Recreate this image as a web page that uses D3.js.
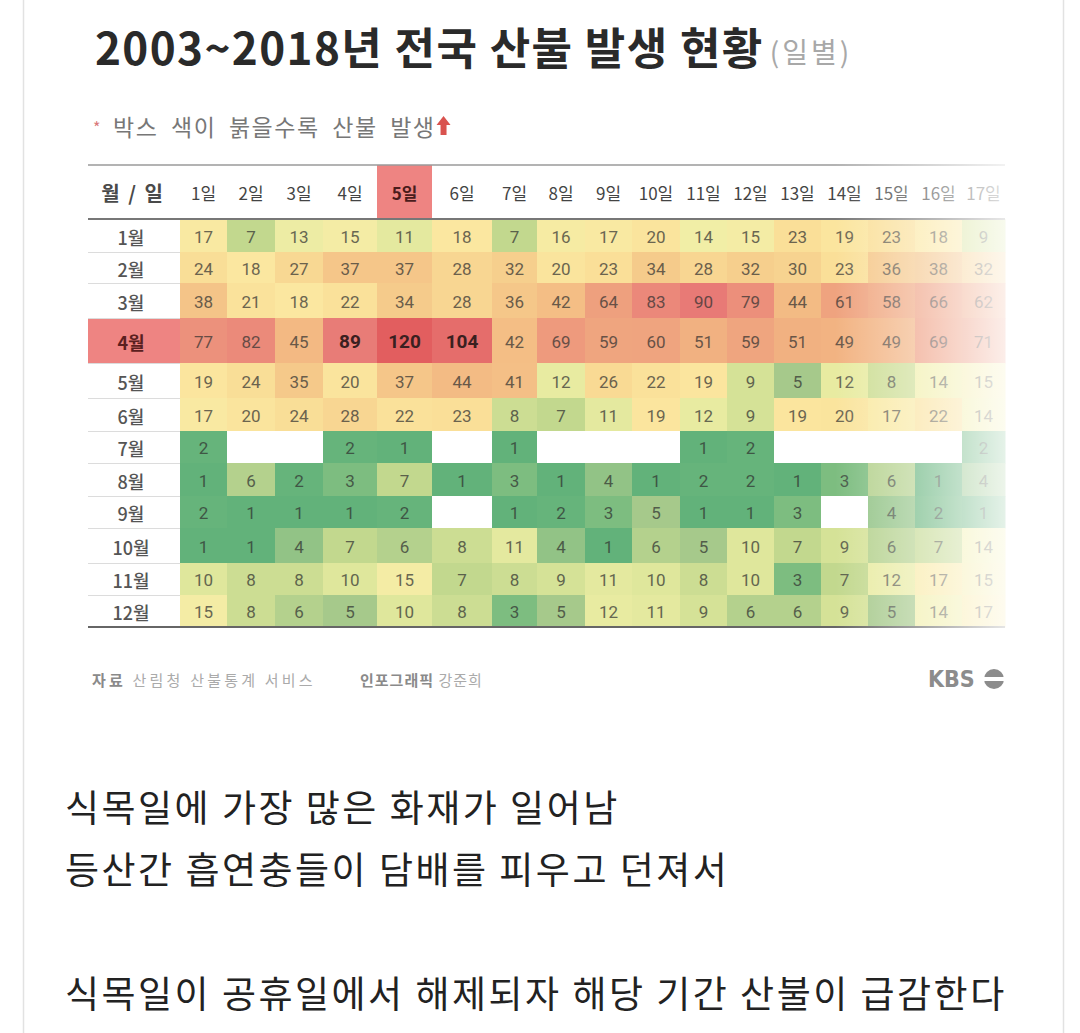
<!DOCTYPE html>
<html>
<head>
<meta charset="utf-8">
<script src="https://cdn.jsdelivr.net/npm/d3@7"></script>
<style>
  body { margin: 0; background: #fff; }
  svg { display: block; }
</style>
</head>
<body>
<div id="chart"></div>
<script>
/* forest fire heatmap, 2003-2018 daily counts */

const months = ["1월","2월","3월","4월","5월","6월","7월","8월","9월","10월","11월","12월"];
const days = ["1일","2일","3일","4일","5일","6일","7일","8일","9일","10일","11일","12일","13일","14일","15일","16일","17일"];

// one array per month, day 1..17 (null = no fire)
const jan = [17,7,13,15,11,18,7,16,17,20,14,15,23,19,23,18,9];
const feb = [24,18,27,37,37,28,32,20,23,34,28,32,30,23,36,38,32];
const mar = [38,21,18,22,34,28,36,42,64,83,90,79,44,61,58,66,62];
const apr = [77,82,45,89,120,104,42,69,59,60,51,59,51,49,49,69,71];
const may = [19,24,35,20,37,44,41,12,26,22,19,9,5,12,8,14,15];
const jun = [17,20,24,28,22,23,8,7,11,19,12,9,19,20,17,22,14];
const jul = [2,null,null,2,1,null,1,null,null,null,1,2,null,null,null,null,2];
const aug = [1,6,2,3,7,1,3,1,4,1,2,2,1,3,6,1,4];
const sep = [2,1,1,1,2,null,1,2,3,5,1,1,3,null,4,2,1];
const oct = [1,1,4,7,6,8,11,4,1,6,5,10,7,9,6,7,14];
const nov = [10,8,8,10,15,7,8,9,11,10,8,10,3,7,12,17,15];
const dec = [15,8,6,5,10,8,3,5,12,11,9,6,6,9,5,14,17];
const values = [jan,feb,mar,apr,may,jun,jul,aug,sep,oct,nov,dec];

const highlightMonth = "4월";
const highlightDay = "5일";
const boldCells = [[3,3],[3,4],[3,5]];

const title = "2003~2018년 전국 산불 발생 현황";
const titleNote = "(일별)";
const subtitle = "박스 색이 붉을수록 산불 발생";
const source = ["자료", "산림청 산불통계 서비스"];
const credit = ["인포그래픽", "강준희"];
const caption = ["식목일에 가장 많은 화재가 일어남", "등산간 흡연충들이 담배를 피우고 던져서", "", "식목일이 공휴일에서 해제되자 해당 기간 산불이 급감한다"];

const W = 1080, H = 1033;
const kr = "'Noto Sans CJK KR', 'Noto Sans', sans-serif";
const num = "Roboto, 'DejaVu Sans', sans-serif";

// layout of the table
const tableLeft = 88, labelRight = 180, tableTop = 165, headBottom = 219;
const colW = [47,48,48,54,55,60,45,48,47,48,47,47,47,47,47,47,43];
const rowH = [33,31,35,45,35,33,32,33,32,35,32,32];

const colStart = d3.cumsum([0].concat(colW.slice(0, -1)));
const rowStart = d3.cumsum([0].concat(rowH.slice(0, -1)));
const x = d3.scaleOrdinal(days, colStart.map(v => labelRight + v));
const xw = d3.scaleOrdinal(days, colW);
const y = d3.scaleOrdinal(months, rowStart.map(v => headBottom + v));
const yh = d3.scaleOrdinal(months, rowH);
const tableRight = labelRight + d3.sum(colW);
const tableBottom = headBottom + d3.sum(rowH);

const color = d3.scaleLinear()
  .domain([1, 2, 3, 5, 7, 10, 14, 18, 25, 35, 45, 60, 80, 90, 120])
  .range(["#62b27a","#66b47b","#7dbd80","#a6c98b","#c2d88e","#dfe79c","#f1eea6","#fbe7a0","#f9dc95","#f5c98a","#f3b983","#efa47f","#ec8e7b","#e87a76","#e25e5f"])
  .clamp(true);

const svg = d3.select("#chart").append("svg")
  .attr("width", W).attr("height", H);

// card borders
svg.append("line").attr("x1", 23.5).attr("x2", 23.5).attr("y1", 0).attr("y2", H)
  .attr("stroke", "#e2e2e2").attr("stroke-width", 1.5);
svg.append("line").attr("x1", 1063.5).attr("x2", 1063.5).attr("y1", 0).attr("y2", H)
  .attr("stroke", "#e2e2e2").attr("stroke-width", 1.5);

// title
const t = svg.append("text").attr("x", 95).attr("y", 65)
  .style("font-family", kr).style("font-size", "44px").style("font-weight", 700)
  .style("letter-spacing", "1.4px")
  .attr("fill", "#2a2a2a").text(title);
const tw = t.node().getComputedTextLength();
svg.append("text").attr("x", 95 + tw + 6).attr("y", 63)
  .style("font-family", kr).style("font-size", "28px").style("letter-spacing", "3px")
  .attr("fill", "#a8a8a8").text(titleNote);

// subtitle
svg.append("text").attr("x", 93).attr("y", 134)
  .style("font-family", kr).style("font-size", "16px")
  .attr("fill", "#d9787a").text("*");
const st = svg.append("text").attr("x", 113).attr("y", 136)
  .style("font-family", kr).style("font-size", "23px")
  .style("letter-spacing", "1.5px").style("word-spacing", "6px")
  .attr("fill", "#777").text(subtitle);
const sw = st.node().getComputedTextLength();
const ax = 113 + sw + 8;
svg.append("path")
  .attr("d", `M${ax},116 L${ax + 7},125 L${ax + 3},125 L${ax + 3},135 L${ax - 3},135 L${ax - 3},125 L${ax - 7},125 Z`)
  .attr("fill", "#d9534f");

// header
const head = svg.append("g");
head.append("rect").attr("x", x(highlightDay)).attr("y", tableTop)
  .attr("width", xw(highlightDay)).attr("height", headBottom - tableTop)
  .attr("fill", "#ee8482");
head.append("text").attr("x", (tableLeft + labelRight) / 2 - 2).attr("y", 192)
  .attr("text-anchor", "middle").attr("dominant-baseline", "central")
  .style("font-family", kr).style("font-size", "20px").style("font-weight", 700)
  .style("word-spacing", "4px")
  .attr("fill", "#4a4a4a").text("월 / 일");
head.selectAll(".day").data(days).join("text")
  .attr("class", "day")
  .attr("x", d => x(d) + xw(d) / 2).attr("y", 192)
  .attr("text-anchor", "middle").attr("dominant-baseline", "central")
  .style("font-family", kr).style("font-size", "17px")
  .style("font-weight", d => d === highlightDay ? 700 : 400)
  .attr("fill", d => d === highlightDay ? "#4a1c1c" : "#444")
  .text(d => d);

// cells
const cells = [];
values.forEach((row, i) => row.forEach((v, j) => {
  cells.push({ month: months[i], day: days[j], value: v,
    bold: boldCells.some(b => b[0] === i && b[1] === j) });
}));

const grid = svg.append("g");
grid.selectAll("rect").data(cells).join("rect")
  .attr("x", d => x(d.day)).attr("y", d => y(d.month))
  .attr("width", d => xw(d.day) + 0.5).attr("height", d => yh(d.month) + 0.5)
  .attr("fill", d => d.value == null ? "#fff" : color(d.value));

grid.selectAll("text").data(cells.filter(d => d.value != null)).join("text")
  .attr("x", d => x(d.day) + xw(d.day) / 2)
  .attr("y", d => y(d.month) + yh(d.month) / 2 + 1)
  .attr("text-anchor", "middle").attr("dominant-baseline", "central")
  .style("font-family", num).style("font-size", d => d.bold ? "19px" : "17px")
  .style("font-weight", d => d.bold ? 700 : 400)
  .attr("fill", d => d.bold ? "#3a2020" : d3.interpolateRgb(color(d.value), "#2e2e2e")(0.7))
  .text(d => d.value);

// row labels
const lab = svg.append("g");
lab.append("rect").attr("x", tableLeft).attr("y", y(highlightMonth))
  .attr("width", labelRight - tableLeft).attr("height", yh(highlightMonth))
  .attr("fill", "#ee8482");
lab.selectAll("line").data(months.slice(1)).join("line")
  .attr("x1", tableLeft).attr("x2", labelRight)
  .attr("y1", d => y(d) + 0.5).attr("y2", d => y(d) + 0.5)
  .attr("stroke", "#dcdcdc");
lab.selectAll("text").data(months).join("text")
  .attr("x", 131).attr("y", d => y(d) + yh(d) / 2 + 1)
  .attr("text-anchor", "middle").attr("dominant-baseline", "central")
  .style("font-family", kr).style("font-size", "18px")
  .style("font-weight", d => d === highlightMonth ? 700 : 500)
  .attr("fill", d => d === highlightMonth ? "#5a2020" : "#555")
  .text(d => d);

// rules
svg.append("line").attr("x1", tableLeft).attr("x2", tableRight)
  .attr("y1", tableTop).attr("y2", tableTop).attr("stroke", "#9a9a9a").attr("stroke-width", 1.5);
svg.append("line").attr("x1", tableLeft).attr("x2", tableRight)
  .attr("y1", headBottom).attr("y2", headBottom).attr("stroke", "#777").attr("stroke-width", 2);
svg.append("line").attr("x1", tableLeft).attr("x2", tableRight)
  .attr("y1", tableBottom).attr("y2", tableBottom).attr("stroke", "#666").attr("stroke-width", 2);

// fade on the right edge
const grad = svg.append("defs").append("linearGradient").attr("id", "fade")
  .attr("x1", "0%").attr("x2", "100%");
[[0, 0], [0.3, 0.25], [0.6, 0.5], [0.85, 0.72], [1, 0.85]].forEach(s => {
  grad.append("stop").attr("offset", s[0]).attr("stop-color", "#fff").attr("stop-opacity", s[1]);
});
svg.append("rect").attr("x", 835).attr("y", tableTop - 2)
  .attr("width", tableRight - 835 + 4).attr("height", tableBottom - tableTop + 5)
  .attr("fill", "url(#fade)");

// footer
const foot = svg.append("text").attr("x", 92).attr("y", 686)
  .style("font-family", kr).style("font-size", "15px").style("letter-spacing", "3.2px");
foot.append("tspan").style("font-weight", 700).attr("fill", "#8a8a8a").text(source[0] + " ");
foot.append("tspan").attr("fill", "#aaa").text(source[1]);
const foot2 = svg.append("text").attr("x", 360).attr("y", 686)
  .style("font-family", kr).style("font-size", "15px").style("letter-spacing", "1px");
foot2.append("tspan").style("font-weight", 700).attr("fill", "#8a8a8a").text(credit[0] + " ");
foot2.append("tspan").attr("fill", "#aaa").text(credit[1]);

// KBS mark
svg.append("text").attr("x", 928).attr("y", 687)
  .style("font-family", "'DejaVu Sans Condensed', 'DejaVu Sans', sans-serif")
  .style("font-size", "23px").style("font-weight", 700).attr("fill", "#8c8c8c")
  .style("letter-spacing", "0px").text("KBS");
svg.append("circle").attr("cx", 994).attr("cy", 679).attr("r", 10).attr("fill", "#8c8c8c");
svg.append("rect").attr("x", 984).attr("y", 677).attr("width", 20).attr("height", 4).attr("fill", "#fff");

// caption below the graphic
svg.append("g").selectAll("text").data(caption).join("text")
  .attr("x", 65).attr("y", (d, i) => 822 + i * 62)
  .style("font-family", kr).style("font-size", "37px").style("letter-spacing", "2.5px")
  .attr("fill", "#222").text(d => d);
</script>
</body>
</html>
